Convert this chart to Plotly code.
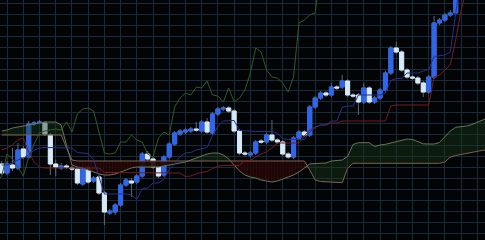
import plotly.graph_objects as go

# ---- candle data (price units, index = candle number) ----
candle_idx = list(range(85))
opens = [76, 67, 75, 72, 91, 83, 116, 117, 117, 105, 76, 72, 74, 72, 71, 56, 73, 59, 63, 47,
         27, 28, 35, 55, 59, 58, 64, 86, 81, 73, 65, 83, 96, 106, 108, 109, 111, 109, 118, 107,
         126, 131, 132, 129, 109, 87, 85, 87, 99, 98, 105, 100, 98, 86, 83, 102, 108, 105, 133, 142,
         147, 145, 153, 153, 159, 145, 145, 138, 152, 138, 142, 150, 167, 192, 188, 170, 163, 162, 157, 148,
         163, 217, 220, 225, 227]
highs = [79, 79, 92, 97, 94, 119, 119, 120, 119, 107, 80, 77, 76, 74, 73, 77, 75, 64, 65, 49,
         31, 37, 57, 62, 62, 66, 88, 89, 83, 75, 85, 98, 109, 111, 112, 113, 118, 120, 122, 128,
         133, 134, 134, 131, 111, 89, 89, 100, 101, 107, 120, 102, 100, 88, 104, 110, 110, 135, 144, 149,
         149, 157, 155, 165, 161, 147, 147, 157, 154, 144, 152, 169, 194, 198, 190, 172, 165, 164, 159, 165,
         224, 222, 227, 230, 280]
lows = [65, 65, 69, 70, 81, 81, 114, 116, 104, 65, 64, 70, 71, 69, 55, 54, 56, 57, 45, 15,
        25, 25, 33, 53, 43, 56, 62, 79, 71, 62, 63, 81, 94, 104, 106, 107, 108, 107, 106, 105,
        124, 129, 127, 107, 85, 84, 83, 85, 96, 96, 98, 96, 84, 81, 81, 100, 103, 103, 131, 140,
        143, 143, 150, 151, 143, 142, 125, 136, 136, 136, 140, 148, 165, 186, 168, 161, 160, 155, 143, 146,
        161, 215, 218, 223, 225]
closes = [67, 76, 72, 90, 83, 116, 117, 118, 106, 76, 73, 74, 73, 71, 57, 73, 58, 62, 47, 28,
          29, 35, 55, 60, 57, 64, 86, 81, 73, 64, 83, 96, 107, 109, 110, 111, 110, 118, 108, 126,
          131, 132, 129, 109, 87, 86, 87, 98, 98, 105, 100, 98, 86, 83, 102, 108, 105, 133, 142, 147,
          145, 153, 152, 159, 145, 144, 138, 152, 138, 142, 150, 167, 192, 188, 170, 163, 162, 157, 148, 163,
          217, 220, 225, 227, 270]

# ---- Ichimoku lines ----
tenkan_idx = list(range(86))
tenkan = [75, 75, 77, 80, 82, 85, 90, 92, 92.5, 92.5, 92, 92, 92, 92, 87.5, 87, 86.5, 80.5, 62.5, 46,
          46, 46, 46, 46, 45, 40.5, 51.5, 52, 57, 57, 61, 70.5, 76, 83.5, 87, 87.5, 90, 91, 92.5, 104.5,
          113.5, 119, 119.5, 119.5, 109.5, 109, 108.5, 108.5, 108.5, 108.5, 108.5, 107, 101.5, 100.5, 100.5, 100.5, 100.5, 108, 112.5, 115,
          115, 119, 119, 132.5, 134, 134, 145, 145, 145, 145, 145, 147, 159.5, 161.5, 161.5, 167, 167, 167, 169, 170.5,
          183.5, 184, 185, 188, 226, 265]
kijun_idx = list(range(87))
kijun = [90, 92, 95, 100, 102, 88, 78, 73, 72, 72, 72, 72, 72, 72, 72, 72, 72, 72, 72, 67.5,
         67.5, 67.5, 67.5, 67.5, 67.5, 67.5, 67.5, 67.5, 67.5, 67.5, 67.5, 67.5, 67.5, 67, 63.5, 64, 66.5, 67.5, 68.5, 71.5,
         74, 74.5, 74.5, 74.5, 74.5, 79.5, 79.5, 83, 86, 88, 92, 97, 97, 97, 97, 97, 104, 110, 113, 115,
         115, 117, 117, 119, 119, 119, 119, 119, 119, 119, 119, 119, 134, 135, 135, 135, 135, 135, 135, 135,
         163, 165, 170, 175, 200, 230, 250]
cloud_idx = list(range(91))
span_a = [109, 110, 112, 113, 114, 115, 116, 117, 118, 118, 118, 115, 95, 75, 73, 72, 70, 68, 66, 65,
          65, 66, 68, 70, 72, 73, 73, 73, 73, 73, 74, 75, 76, 77, 78, 80, 82, 84, 86, 87,
          87, 85, 81, 75, 69, 65, 63, 62, 60, 59, 58, 59, 61, 63, 65, 68, 72, 76, 76.5, 76.5,
          77, 79, 79.5, 80, 83.5, 95.5, 97.3, 97.3, 97.3, 93.5, 95, 95.7, 97, 98.3, 99.7, 101, 100.5, 98.5, 96.2, 96,
          96, 97.5, 103, 109, 112.7, 113.2, 114, 115.5, 118, 120, 122]
span_b = [105, 105, 105, 105, 105, 105, 105, 105, 105, 105, 105, 105, 92, 80, 79, 79, 79, 79, 79, 79,
          79, 79, 79, 79, 79, 79, 79, 79, 79, 79, 79, 79, 79, 79, 79, 79, 79, 79, 79, 79,
          79, 79, 79, 79, 79, 79, 79, 79, 79, 79, 79, 79, 79, 79, 79, 79, 79, 70, 60, 58.5,
          58.3, 58, 57.7, 57.3, 72, 76.7, 76.7, 76.7, 76.7, 76.7, 76.7, 76.7, 76.7, 76.7, 76.7, 76.7, 76.7, 76.7, 76.7, 76.7,
          76.7, 76.7, 78, 83, 84.5, 85.5, 86.5, 87.7, 89, 89.7, 90]
chikou_shift = 25  # lagging line is drawn this many candles back

# ---- styles ----
BG = "#020406"
GRID = "#1a2a3b"
BLUE = "#2e66ee"
WHITE = "#d6e9f7"
WICK = "#5f6877"


def with_crossings(xs, a, b):
    X, A2, B2 = [xs[0]], [a[0]], [b[0]]
    for k in range(1, len(xs)):
        d0 = a[k - 1] - b[k - 1]
        d1 = a[k] - b[k]
        if d0 * d1 < 0:
            t = d0 / (d0 - d1)
            xc = xs[k - 1] + t * (xs[k] - xs[k - 1])
            yc = a[k - 1] + t * (a[k] - a[k - 1])
            X.append(xc); A2.append(yc); B2.append(yc)
        X.append(xs[k]); A2.append(a[k]); B2.append(b[k])
    return X, A2, B2


cx, ca, cb = with_crossings(cloud_idx, span_a, span_b)
top = [max(p, q) for p, q in zip(ca, cb)]

fig = go.Figure()
nolines = dict(width=0)
# green cloud (span A above span B)
fig.add_trace(go.Scatter(x=cx, y=cb, mode="lines", line=nolines, hoverinfo="skip"))
fig.add_trace(go.Scatter(x=cx, y=top, mode="lines", line=nolines, fill="tonexty",
                         fillcolor="rgba(28,60,26,0.42)", hoverinfo="skip"))
# red cloud (span B above span A), hatched
fig.add_trace(go.Scatter(x=cx, y=ca, mode="lines", line=nolines, hoverinfo="skip"))
fig.add_trace(go.Scatter(x=cx, y=top, mode="lines", line=nolines, fill="tonexty",
                         fillcolor="rgba(32,6,6,0.9)",
                         fillpattern=dict(shape="|", bgcolor="rgba(30,5,5,0.9)",
                                          fgcolor="rgba(62,13,13,0.85)", size=3, solidity=0.3),
                         hoverinfo="skip"))
# cloud boundaries
fig.add_trace(go.Scatter(x=cloud_idx, y=span_b, mode="lines", line=dict(color="#7c624e", width=1)))
fig.add_trace(go.Scatter(x=cloud_idx, y=span_a, mode="lines", line=dict(color="#687656", width=1)))
# lagging span
fig.add_trace(go.Scatter(x=[i - chikou_shift for i in candle_idx], y=closes, mode="lines",
                         line=dict(color="#33592a", width=1)))
# kijun / tenkan
fig.add_trace(go.Scatter(x=kijun_idx, y=kijun, mode="lines", line=dict(color="#761c21", width=1)))
fig.add_trace(go.Scatter(x=tenkan_idx, y=tenkan, mode="lines", line=dict(color="#26318a", width=1)))

# candles: wicks (grey) then bodies on top
fig.add_trace(go.Candlestick(x=candle_idx, open=opens, high=highs, low=lows, close=closes,
                             increasing=dict(line=dict(color=WICK, width=1), fillcolor=WICK),
                             decreasing=dict(line=dict(color=WICK, width=1), fillcolor=WICK),
                             hoverinfo="skip"))
body_hi = [max(o, c) for o, c in zip(opens, closes)]
body_lo = [min(o, c) for o, c in zip(opens, closes)]
fig.add_trace(go.Candlestick(x=candle_idx, open=opens, high=body_hi, low=body_lo, close=closes,
                             increasing=dict(line=dict(color=BLUE, width=1), fillcolor=BLUE),
                             decreasing=dict(line=dict(color=WHITE, width=1), fillcolor=WHITE),
                             hoverinfo="skip"))

fig.update_layout(
    width=485, height=240, autosize=False,
    margin=dict(l=0, r=0, t=0, b=0, pad=0),
    paper_bgcolor=BG, plot_bgcolor=BG,
    showlegend=False,
    boxgap=0.25, boxgroupgap=0.0,
    xaxis=dict(range=[-0.3145, 89.42], showticklabels=False, zeroline=False, showline=False,
               showgrid=True, gridcolor=GRID, gridwidth=1, tick0=1, dtick=3,
               rangeslider=dict(visible=False), fixedrange=True),
    yaxis=dict(range=[0, 240], showticklabels=False, zeroline=False, showline=False,
               showgrid=True, gridcolor=GRID, gridwidth=1, tick0=236.5, dtick=10.93,
               fixedrange=True),
)

fig.write_html("out.html", config={"displayModeBar": False})
